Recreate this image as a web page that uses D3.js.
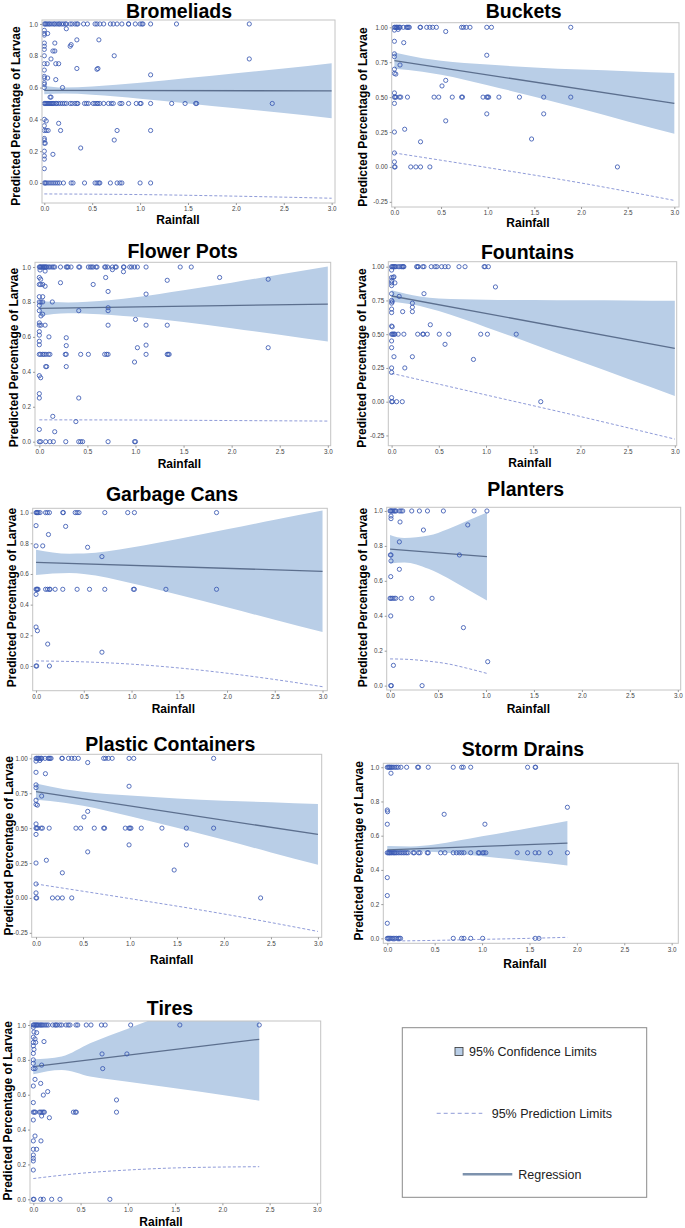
<!DOCTYPE html>
<html><head><meta charset="utf-8">
<script src="https://cdn.jsdelivr.net/npm/d3@7"></script>
<style>body{margin:0;background:#fff} text{font-family:"Liberation Sans",Arial,sans-serif}</style>
</head><body><svg id="c" width="685" height="1228"></svg>
<script>
// ---------- shared tick labels ----------
const xTicks = [0, 0.5, 1, 1.5, 2, 2.5, 3];
const yTicksTenths = [0, 0.2, 0.4, 0.6, 0.8, 1.0];
const yTicksQuarters = [-0.25, 0, 0.25, 0.5, 0.75, 1.0];
const titles = ["Bromeliads","Buckets","Flower Pots","Fountains","Garbage Cans","Planters","Plastic Containers","Storm Drains","Tires"];
const legendLabels = ["95% Confidence Limits","95% Prediction Limits","Regression"];

function row(y, xs){ return xs.map(x => [x, y]); }
function col(x, ys){ return ys.map(y => [x, y]); }

// ---------- Bromeliads ----------
const bromeliadsPts = [
 ...row(1,[0,0.01,0.02,0.035,0.05,0.06,0.08,0.1,0.11,0.13,0.15,0.16,0.18,0.2,0.22,0.23,0.27,0.29,0.32,0.34,0.35,0.41,0.45,0.53,0.55,0.58,0.62,0.69,0.72,0.76,0.81,0.88,0.88,0.95,1.0,1.02,1.03,1.11,1.38,2.14]),
 ...row(0.5,[0,0.01,0.02,0.03,0.04,0.05,0.06,0.07,0.08,0.09,0.1,0.12,0.13,0.15,0.17,0.19,0.21,0.23,0.27,0.29,0.32,0.34,0.35,0.42,0.44,0.46,0.51,0.53,0.55,0.56,0.58,0.62,0.67,0.70,0.72,0.79,0.81,0.88,0.96,1.0,1.01,1.11,1.33,1.47,1.58,1.59,2.38]),
 ...row(0,[0,0.01,0.02,0.04,0.06,0.08,0.1,0.12,0.14,0.16,0.2,0.28,0.3,0.42,0.53,0.55,0.57,0.58,0.69,0.76,0.79,0.81,1.0,1.11]),
 ...col(0,[0.96,0.94,0.93,0.88,0.86,0.84,0.80,0.75,0.71,0.67,0.66,0.63,0.62,0.60,0.40,0.36,0.33,0.28,0.27,0.25,0.2,0.17,0.15,0.09]),
 [0.23,0.97],[0.035,0.94],[0.34,0.90],[0.57,0.90],[0.11,0.88],[0.28,0.87],[0.27,0.86],[0.09,0.83],[0.11,0.83],[0.73,0.80],[0.07,0.78],[0.03,0.75],[0.12,0.75],[0.15,0.75],[0.34,0.72],[0.55,0.715],[0.56,0.72],[1.11,0.68],[0.035,0.66],[0.12,0.65],[0.19,0.60],[0.07,0.54],[0.06,0.54],[0.15,0.375],[0.02,0.39],[0.02,0.33],[0.04,0.33],[0.17,0.33],[0.76,0.33],[1.11,0.33],[0.73,0.27],[0.38,0.22],[0.09,0.18],[2.14,0.78],[0.01,0.25]
];
const bromeliadsFit = [[0,0.583],[3,0.579]];
const bromeliadsCI = [[0,0.558,0.612],[0.2,0.562,0.600],[0.5,0.555,0.607],[1,0.53,0.63],[1.5,0.50,0.66],[2,0.47,0.69],[2.5,0.44,0.72],[3,0.407,0.753]];
const bromeliadsPred = [[0,-0.069],[1,-0.073],[2,-0.083],[3,-0.096]];

// ---------- Buckets ----------
const bucketsPts = [
 ...row(1,[0,0.007,0.018,0.025,0.032,0.043,0.054,0.061,0.096,0.13,0.14,0.15,0.16,0.275,0.28,0.346,0.38,0.41,0.45,0.72,0.74,0.77,0.81,0.99,1.04,1.89]),
 ...row(0.5,[0,0.007,0.018,0.054,0.068,0.14,0.425,0.475,0.62,0.72,0.73,0.95,0.99,1.0,1.01,1.12,1.34,1.6,1.89]),
 ...row(0,[0,0.007,0.175,0.23,0.28,0.38,2.39]),
 [0,0.98],[0.04,0.985],[0.55,0.97],[0,0.90],[0.10,0.89],[0,0.81],[0,0.79],[0.99,0.80],[0.06,0.73],[0,0.70],[0,0.67],[0.015,0.665],[0.55,0.62],[0.51,0.58],[0,0.53],[0,0.455],[0.55,0.33],[0.99,0.38],[1.6,0.38],[0,0.25],[0.11,0.27],[0.28,0.18],[1.47,0.20],[0,0.10],[0,0.036]
];
const bucketsFit = [[0,0.761],[3,0.455]];
const bucketsCI = [[0,0.703,0.819],[0.3,0.682,0.778],[0.5,0.660,0.760],[1,0.585,0.733],[1.5,0.503,0.713],[2,0.417,0.697],[2.5,0.326,0.686],[3,0.237,0.673]];
const bucketsPred = [[0,0.100],[1,-0.005],[2,-0.115],[3,-0.240]];

// ---------- Flower Pots ----------
const flowerPts = [
 ...row(1,[0,0.007,0.014,0.024,0.035,0.042,0.052,0.059,0.069,0.076,0.094,0.11,0.13,0.146,0.16,0.22,0.28,0.29,0.30,0.33,0.41,0.42,0.51,0.53,0.545,0.56,0.59,0.60,0.68,0.69,0.71,0.76,0.79,0.80,0.875,0.88,0.94,0.96,0.99,1.02,1.11,1.465,1.58]),
 ...row(0.5,[0,0.014,0.035,0.049,0.069,0.094,0.11,0.27,0.28,0.43,0.51,0.68,0.70,0.715,1.11,1.33,1.34,1.35]),
 ...row(0,[0,0.014,0.066,0.11,0.146,0.275,0.41,0.43,0.45,0.715,0.99,1.0]),
 [0.007,0.983],[0.06,0.977],[0.875,0.973],[0.76,0.985],[0,0.94],[0.014,0.93],[1.875,0.94],[2.38,0.93],[1.33,0.924],[0.69,0.94],[0,0.9],[0.014,0.9],[0.035,0.9],[0.22,0.91],[0.56,0.90],[0.06,0.89],[0.715,0.86],[1.11,0.845],[0,0.83],[0.035,0.83],[0,0.80],[0.017,0.80],[0.035,0.80],[0.135,0.80],[0,0.78],[0.41,0.75],[0.715,0.75],[0.715,0.767],[0,0.75],[0.035,0.73],[0.017,0.72],[1.0,0.70],[0,0.68],[0,0.667],[0.017,0.667],[0.06,0.667],[0.715,0.667],[1.11,0.667],[1.33,0.667],[0,0.63],[0,0.61],[0.10,0.60],[0.28,0.595],[0,0.575],[0,0.555],[0.28,0.55],[1.11,0.553],[1.02,0.538],[2.38,0.538],[0.066,0.43],[0.076,0.43],[0.28,0.43],[0.99,0.456],[0,0.378],[0.014,0.366],[0,0.275],[0,0.25],[0.41,0.25],[0.14,0.145],[0.38,0.115],[0.16,0.057],[0,0.07]
];
const flowerFit = [[0,0.763],[3,0.788]];
const flowerCI = [[0,0.719,0.807],[0.3,0.735,0.797],[0.5,0.733,0.801],[1,0.715,0.827],[1.5,0.685,0.867],[2,0.650,0.910],[2.5,0.612,0.957],[3,0.573,1.003]];
const flowerPred = [[0,0.125],[1,0.124],[2,0.121],[3,0.118]];

// ---------- Fountains ----------
const fountainsPts = [
 ...row(1,[0,0.01,0.018,0.028,0.035,0.046,0.07,0.088,0.106,0.117,0.124,0.13,0.265,0.276,0.283,0.33,0.343,0.42,0.46,0.48,0.53,0.566,0.6,0.714,0.778,0.98,0.99,1.025]),
 ...row(0.5,[0,0.01,0.018,0.028,0.035,0.07,0.13,0.276,0.33,0.336,0.378,0.505,0.605,0.944,1.015,1.32]),
 ...row(0,[0,0.01,0.053,0.113,1.58]),
 [0,0.975],[0,0.92],[0.018,0.92],[0.025,0.925],[0,0.896],[0,0.88],[0.035,0.88],[0,0.86],[1.10,0.85],[0,0.80],[0.343,0.80],[0.08,0.78],[0,0.75],[0.007,0.74],[0,0.73],[0.22,0.73],[0.22,0.70],[0,0.686],[0,0.66],[0.117,0.667],[0.22,0.667],[0,0.56],[0.007,0.555],[0.41,0.57],[0,0.45],[0.566,0.425],[0,0.40],[0.025,0.333],[0.22,0.333],[0.867,0.313],[0,0.25],[0.14,0.25],[0,0.217],[0,0.03]
];
const fountainsFit = [[0,0.783],[3,0.395]];
const fountainsCI = [[0,0.740,0.826],[0.3,0.709,0.779],[0.5,0.671,0.765],[1,0.552,0.756],[1.5,0.425,0.753],[2,0.297,0.751],[2.5,0.170,0.750],[3,0.043,0.747]];
const fountainsPred = [[0,0.21],[1,0.05],[2,-0.11],[3,-0.277]];

// ---------- Garbage Cans ----------
const garbagePts = [
 ...row(1,[0,0.007,0.014,0.024,0.042,0.1,0.119,0.14,0.28,0.286,0.41,0.43,0.45,0.72,0.96,1.03,1.89]),
 ...row(0.5,[0,0.007,0.014,0.021,0.1,0.12,0.14,0.147,0.2,0.28,0.43,0.56,0.72,1.02,1.03,1.36,1.89]),
 ...row(0,[0,0.007,0.14]),
 [0,0.915],[0.31,0.91],[0.13,0.857],[0.07,0.783],[0,0.783],[0.54,0.774],[0.69,0.713],[0,0.467],[0,0.254],[0.014,0.23],[0.122,0.143],[0.69,0.09]
];
const garbageFit = [[0,0.676],[3,0.617]];
const garbageCI = [[0,0.594,0.758],[0.35,0.606,0.732],[0.5,0.599,0.733],[1,0.540,0.772],[1.5,0.463,0.829],[2,0.383,0.891],[2.5,0.301,0.953],[3,0.221,1.013]];
const garbagePred = [[0,0.033],[0.5,0.027],[1,0.012],[1.5,-0.013],[2,-0.047],[2.5,-0.088],[3,-0.135]];

// ---------- Planters ----------
const plantersPts = [
 ...row(1,[0,0.007,0.017,0.028,0.042,0.052,0.063,0.097,0.115,0.132,0.226,0.306,0.39,0.556,0.876,1.01]),
 ...row(0.5,[0,0.01,0.024,0.042,0.059,0.115,0.226,0.438]),
 ...row(0,[0.007,0.014,0.334]),
 [0.01,0.971],[0.01,0.956],[0.104,0.937],[0.81,0.92],[0.348,0.891],[0.097,0.823],[0.01,0.748],[0.003,0.748],[0.723,0.748],[0.01,0.714],[0.097,0.666],[0.007,0.624],[0.007,0.399],[0.765,0.332],[0.035,0.116],[1.018,0.137]
];
const plantersFit = [[0,0.781],[1.01,0.739]];
const plantersCI = [[0,0.699,0.863],[0.15,0.705,0.845],[0.4,0.669,0.859],[0.6,0.616,0.896],[0.8,0.553,0.943],[1.01,0.487,0.991]];
const plantersPred = [[0,0.153],[0.2,0.150],[0.4,0.14],[0.6,0.125],[0.8,0.10],[1.01,0.07]];

// ---------- Plastic Containers ----------
const plasticPts = [
 ...row(1,[0,0.007,0.018,0.025,0.032,0.043,0.054,0.061,0.096,0.13,0.14,0.15,0.16,0.275,0.28,0.346,0.38,0.41,0.45,0.72,0.74,0.77,0.81,0.99,1.04,1.89]),
 ...row(0.5,[0,0.007,0.018,0.054,0.068,0.14,0.425,0.475,0.62,0.72,0.73,0.95,0.99,1.0,1.01,1.12,1.34,1.6,1.89]),
 ...row(0,[0,0.007,0.175,0.23,0.28,0.38,2.39]),
 [0,0.98],[0.04,0.985],[0.55,0.97],[0,0.90],[0.10,0.89],[0,0.81],[0,0.79],[0.99,0.80],[0.06,0.73],[0,0.70],[0,0.67],[0.015,0.665],[0.55,0.62],[0.51,0.58],[0,0.53],[0,0.455],[0.55,0.33],[0.99,0.38],[1.6,0.38],[0,0.25],[0.11,0.27],[0.28,0.18],[1.47,0.20],[0,0.10],[0,0.036]
];
const plasticFit = [[0,0.761],[3,0.455]];
const plasticCI = [[0,0.703,0.819],[0.3,0.682,0.778],[0.5,0.660,0.760],[1,0.585,0.733],[1.5,0.503,0.713],[2,0.417,0.697],[2.5,0.326,0.686],[3,0.237,0.673]];
const plasticPred = [[0,0.100],[1,-0.005],[2,-0.115],[3,-0.240]];

// ---------- Storm Drains ----------
const stormPts = [
 ...row(1,[0,0.011,0.021,0.028,0.039,0.049,0.063,0.081,0.098,0.116,0.144,0.204,0.32,0.33,0.432,0.696,0.784,0.802,0.88,1.48,1.56,1.565]),
 ...row(0.5,[0,0.011,0.021,0.028,0.039,0.049,0.063,0.074,0.084,0.098,0.116,0.134,0.151,0.169,0.186,0.204,0.22,0.274,0.285,0.33,0.345,0.422,0.432,0.563,0.608,0.696,0.73,0.759,0.784,0.809,0.88,0.96,0.97,1.006,1.02,1.04,1.37,1.48,1.56,1.6,1.72,1.9]),
 ...row(0,[0,0.011,0.021,0.035,0.049,0.063,0.081,0.098,0.116,0.127,0.14,0.696,0.784,0.809,0.88,1.006,1.56,1.6]),
 [0.039,0.965],[0,0.75],[0.003,0.74],[0,0.667],[1.03,0.667],[0.6,0.725],[1.9,0.766],[0,0.355],[0,0.25],[0,0.088]
];
const stormFit = [[0,0.517],[1.9,0.556]];
const stormCI = [[0,0.495,0.539],[0.25,0.507,0.537],[0.5,0.505,0.549],[1,0.480,0.596],[1.5,0.451,0.645],[1.9,0.426,0.686]];
const stormPred = [[0,-0.016],[0.5,-0.012],[1,-0.006],[1.5,0.0],[1.9,0.006]];

// ---------- Tires ----------
const tiresPts = [
 ...row(1,[0,0.007,0.018,0.028,0.035,0.046,0.056,0.071,0.081,0.092,0.106,0.124,0.141,0.159,0.205,0.23,0.24,0.254,0.28,0.3,0.346,0.37,0.388,0.452,0.47,0.56,0.61,0.72,0.76,1.03,1.55,2.39]),
 ...row(0.5,[0,0.011,0.021,0.064,0.078,0.092,0.106,0.117,0.424,0.445,0.455,0.88]),
 ...row(0,[0,0.007,0.078,0.106,0.194,0.282,0.81]),
 [0,0.987],[0.007,0.96],[0.035,0.956],[0,0.93],[0.018,0.92],[0,0.90],[0.025,0.90],[0.113,0.905],[0,0.88],[0.007,0.86],[0,0.837],[0.727,0.834],[0.99,0.834],[0,0.8],[0,0.78],[0,0.75],[0.018,0.75],[0.088,0.77],[0.734,0.75],[0.018,0.688],[0.078,0.665],[0,0.65],[0.152,0.618],[0.106,0.598],[0.88,0.57],[0,0.555],[0.088,0.478],[0.17,0.468],[0,0.455],[0.018,0.363],[0.081,0.335],[0,0.335],[0,0.287],[0.035,0.287],[0,0.254],[0,0.235],[0,0.22],[0,0.168]
];
const tiresFit = [[0,0.761],[2.39,0.918]];
const tiresCI = [[0,0.718,0.804],[0.3,0.742,0.820],[0.6,0.705,0.895],[1,0.675,0.979],[1.5,0.637,1.083],[2,0.598,1.186],[2.39,0.566,1.27]];
const tiresPred = [[0,0.119],[0.5,0.149],[1,0.168],[1.5,0.180],[2,0.185],[2.39,0.187]];

// ---------- layout ----------
const panels = [
 {pts:bromeliadsPts, fit:bromeliadsFit, ci:bromeliadsCI, pred:bromeliadsPred, yt:yTicksTenths, dp:1,
  frame:[42,20,335,203], xd:[-0.024,3.035], yd:[-0.126,1.025], tp:[179,17.5], xl:[178,223.5], yl:[20,116]},
 {pts:bucketsPts, fit:bucketsFit, ci:bucketsCI, pred:bucketsPred, yt:yTicksQuarters, dp:2,
  frame:[391.7,22.7,679,207], xd:[-0.029,3.05], yd:[-0.287,1.033], tp:[523.7,17.5], xl:[528,227], yl:[367,117]},
 {pts:flowerPts, fit:flowerFit, ci:flowerCI, pred:flowerPred, yt:yTicksTenths, dp:1,
  frame:[35,262.3,330.7,445.7], xd:[-0.045,3.03], yd:[-0.023,1.027], tp:[182.7,258], xl:[179.3,467.7], yl:[18,357.5]},
 {pts:fountainsPts, fit:fountainsFit, ci:fountainsCI, pred:fountainsPred, yt:yTicksQuarters, dp:2,
  frame:[388.3,261.7,676.7,445.7], xd:[-0.035,3.02], yd:[-0.326,1.037], tp:[527.5,259], xl:[530,466.7], yl:[366,358]},
 {pts:garbagePts, fit:garbageFit, ci:garbageCI, pred:garbagePred, yt:yTicksTenths, dp:1,
  frame:[32.7,508.3,327.3,690.7], xd:[-0.035,3.05], yd:[-0.161,1.028], tp:[172,500.7], xl:[173.3,712.7], yl:[16,597.5]},
 {pts:plantersPts, fit:plantersFit, ci:plantersCI, pred:plantersPred, yt:yTicksTenths, dp:1,
  frame:[386.7,507.3,680.7,690], xd:[-0.035,3.03], yd:[-0.025,1.021], tp:[525.7,495.5], xl:[528.3,712.7], yl:[367,597.5]},
 {pts:plasticPts, fit:plasticFit, ci:plasticCI, pred:plasticPred, yt:yTicksQuarters, dp:2,
  frame:[31.7,754.3,321.7,937.3], xd:[-0.046,3.04], yd:[-0.282,1.029], tp:[170.3,751], xl:[171.7,964.3], yl:[13.3,845.8]},
 {pts:stormPts, fit:stormFit, ci:stormCI, pred:stormPred, yt:yTicksTenths, dp:1,
  frame:[383.3,763.3,678.3,943.3], xd:[-0.042,3.07], yd:[-0.029,1.023], tp:[523,756], xl:[525,967.7], yl:[363,850.8]},
 {pts:tiresPts, fit:tiresFit, ci:tiresCI, pred:tiresPred, yt:yTicksTenths, dp:1,
  frame:[30,1021,320.7,1203.3], xd:[-0.035,3.04], yd:[-0.023,1.023], tp:[170,1015], xl:[161,1225.5], yl:[12,1110.8]}
];

const C = {band:"#b9cee7", reg:"#5c6f8e", pred:"#8f9bd8", mark:"#3a58b2", frame:"#c4c4c4", tick:"#444"};
const svg = d3.select("#c");

panels.forEach((p, i) => {
  const [L,T,R,B] = p.frame;
  const x = d3.scaleLinear().domain(p.xd).range([L,R]);
  const y = d3.scaleLinear().domain(p.yd).range([B,T]);
  const g = svg.append("g");
  const cid = "clip"+i;
  g.append("clipPath").attr("id",cid).append("rect").attr("x",L).attr("y",T).attr("width",R-L).attr("height",B-T);
  const plot = g.append("g").attr("clip-path",`url(#${cid})`);

  plot.append("path").datum(p.ci)
    .attr("d", d3.area().x(d=>x(d[0])).y0(d=>y(d[1])).y1(d=>y(d[2])).curve(d3.curveMonotoneX))
    .attr("fill", C.band);
  plot.append("path").datum(p.pred)
    .attr("d", d3.line().x(d=>x(d[0])).y(d=>y(d[1])).curve(d3.curveMonotoneX))
    .attr("fill","none").attr("stroke",C.pred).attr("stroke-width",1).attr("stroke-dasharray","3,2");
  plot.append("path").datum(p.fit)
    .attr("d", d3.line().x(d=>x(d[0])).y(d=>y(d[1])))
    .attr("fill","none").attr("stroke",C.reg).attr("stroke-width",1.3);
  plot.selectAll("circle.m").data(p.pts).join("circle").attr("class","m")
    .attr("cx",d=>x(d[0])).attr("cy",d=>y(d[1])).attr("r",2.1)
    .attr("fill","none").attr("stroke",C.mark).attr("stroke-width",0.85);

  g.append("rect").attr("x",L).attr("y",T).attr("width",R-L).attr("height",B-T)
    .attr("fill","none").attr("stroke",C.frame).attr("stroke-width",1);

  const ax = g.append("g").attr("transform",`translate(0,${B})`)
    .call(d3.axisBottom(x).tickValues(xTicks).tickFormat(d=>d.toFixed(1)).tickSize(2).tickPadding(2));
  const ay = g.append("g").attr("transform",`translate(${L},0)`)
    .call(d3.axisLeft(y).tickValues(p.yt).tickFormat(d=>d.toFixed(p.dp)).tickSize(2).tickPadding(2));
  [ax,ay].forEach(a=>{
    a.select(".domain").remove();
    a.selectAll("line").attr("stroke","#999");
    a.selectAll("text").attr("font-size","6.3px").attr("fill",C.tick).attr("font-family",'"Liberation Sans",Arial,sans-serif');
  });

  g.append("text").attr("x",p.tp[0]).attr("y",p.tp[1]).attr("text-anchor","middle")
    .attr("font-size","19.5px").attr("font-weight","bold").attr("fill","#000").text(titles[i]);
  g.append("text").attr("x",p.xl[0]).attr("y",p.xl[1]).attr("text-anchor","middle")
    .attr("font-size","12px").attr("font-weight","bold").attr("fill","#000").text("Rainfall");
  g.append("text").attr("transform",`translate(${p.yl[0]},${p.yl[1]}) rotate(-90)`).attr("text-anchor","middle")
    .attr("font-size","12px").attr("font-weight","bold").attr("fill","#000").text("Predicted Percentage of Larvae");
});

// ---------- legend ----------
const lg = svg.append("g");
lg.append("rect").attr("x",402.3).attr("y",1027.7).attr("width",244.4).attr("height",169.6)
  .attr("fill","#fff").attr("stroke","#8a8a8a").attr("stroke-width",1);
lg.append("rect").attr("x",455).attr("y",1047.5).attr("width",8).attr("height",8)
  .attr("fill",C.band).attr("stroke","#333").attr("stroke-width",0.8);
lg.append("text").attr("x",469).attr("y",1056).attr("font-size","12.5px").attr("fill","#222").text(legendLabels[0]);
lg.append("line").attr("x1",436.7).attr("x2",482.3).attr("y1",1113.3).attr("y2",1113.3)
  .attr("stroke",C.pred).attr("stroke-width",1).attr("stroke-dasharray","4,3");
lg.append("text").attr("x",491.7).attr("y",1117.6).attr("font-size","12.5px").attr("fill","#222").text(legendLabels[1]);
lg.append("line").attr("x1",462.7).attr("x2",512.3).attr("y1",1174.3).attr("y2",1174.3)
  .attr("stroke","#7d92ad").attr("stroke-width",2.5);
lg.append("text").attr("x",518.3).attr("y",1178.6).attr("font-size","12.5px").attr("fill","#222").text(legendLabels[2]);
</script></body></html>
